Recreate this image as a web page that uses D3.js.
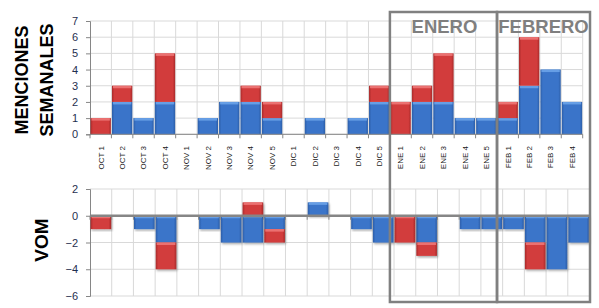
<!DOCTYPE html>
<html>
<head>
<meta charset="utf-8">
<script src="https://cdnjs.cloudflare.com/ajax/libs/d3/7.8.5/d3.min.js"></script>
<style>
  body { margin: 0; background: #fff; }
  svg { display: block; font-family: "Liberation Sans", Arial, sans-serif; }
</style>
</head>
<body>
<div id="chart"></div>
<script>
// semanas
var categories = ["OCT 1","OCT 2","OCT 3","OCT 4",
                  "NOV 1","NOV 2","NOV 3","NOV 4","NOV 5",
                  "DIC 1","DIC 2","DIC 3","DIC 4","DIC 5",
                  "ENE 1","ENE 2","ENE 3","ENE 4","ENE 5",
                  "FEB 1","FEB 2","FEB 3","FEB 4"];

// menciones semanales (azul abajo, rojo encima)
var menBlue = [0,2,1,2, 0,1,2,2,1, 0,1,0,1,2, 0,2,2,1,1, 1,3,4,2];
var menRed  = [1,1,0,3, 0,0,0,1,1, 0,0,0,0,1, 2,1,3,0,0, 1,3,0,0];

// VOM
var vomBlue = [0,0,-1,-2, 0,-1,-2,-2,-1, 0,1,0,-1,-2, 0,-2,0,-1,-1, -1,-2,-4,-2];
var vomRed  = [-1,0,0,-2, 0,0,0,1,-1, 0,0,0,0,0, -2,-1,0,0,0, 0,-2,0,0];

var menTicks = [0,1,2,3,4,5,6,7];
var vomTicks = [2,0,-2,-4,-6];

var months = [
  {name: "ENERO",   from: "ENE 1", to: "FEB 1"},
  {name: "FEBRERO", from: "FEB 1", to: null}
];

var W = 599, H = 308;
var left = 90;

var svg = d3.select("#chart").append("svg")
    .attr("width", W)
    .attr("height", H);

var defs = svg.append("defs");

function grad(id, dark, mid) {
    var g = defs.append("linearGradient").attr("id", id)
        .attr("x1", "0").attr("x2", "1").attr("y1", "0").attr("y2", "0");
    g.append("stop").attr("offset", "0").attr("stop-color", dark);
    g.append("stop").attr("offset", "0.12").attr("stop-color", mid);
    g.append("stop").attr("offset", "0.88").attr("stop-color", mid);
    g.append("stop").attr("offset", "1").attr("stop-color", dark);
}
grad("gBlue", "#2c5ea8", "#3a74c9");
grad("gRed", "#a82a2a", "#d23c3c");

var sh = defs.append("filter").attr("id", "shadow")
    .attr("x", "-20%").attr("y", "-20%").attr("width", "140%").attr("height", "140%");
sh.append("feDropShadow").attr("dx", 1).attr("dy", 1.5)
    .attr("stdDeviation", 1).attr("flood-color", "#000").attr("flood-opacity", 0.35);

var colors = {blue: {fill: "url(#gBlue)", hi: "#6ea6ea"},
              red:  {fill: "url(#gRed)",  hi: "#f07a7a"}};

function buildRows(blue, red) {
    return categories.map(function(c, i) { return {cat: c, blue: blue[i], red: red[i]}; });
}

function drawPanel(opt) {
    var x = d3.scaleBand().domain(categories)
        .range([left, opt.right])
        .paddingInner(0.05).paddingOuter(0.025);
    var step = x.step();
    var x0 = x.range()[0];
    var y = d3.scaleLinear().domain(opt.domain).range(opt.range);
    var g = svg.append("g");

    // horizontal grid
    g.selectAll(".hg").data(opt.ticks).enter().append("line")
        .attr("x1", left).attr("x2", opt.right)
        .attr("y1", function(d) { return y(d); }).attr("y2", function(d) { return y(d); })
        .attr("stroke", "#d9d9d9").attr("stroke-width", 1);

    // vertical grid at category boundaries
    var bounds = d3.range(1, categories.length + 1).map(function(i) { return x0 + i * step; });
    g.selectAll(".vg").data(bounds).enter().append("line")
        .attr("x1", function(d) { return d; }).attr("x2", function(d) { return d; })
        .attr("y1", y(opt.domain[1])).attr("y2", y(opt.domain[0]))
        .attr("stroke", "#d9d9d9").attr("stroke-width", 1);

    // y axis
    var ya = g.append("g").attr("transform", "translate(" + left + ",0)")
        .call(d3.axisLeft(y).tickValues(opt.ticks).tickSize(4).tickPadding(8)
              .tickFormat(d3.format("d")));
    ya.select(".domain").attr("stroke", "#868686");
    ya.selectAll(".tick line").attr("stroke", "#868686");
    ya.selectAll("text").attr("fill", "#1f2f4f")
        .style("font-size", "11px").style("font-family", "'Liberation Sans', Arial, sans-serif");

    // bars
    var rows = buildRows(opt.blue, opt.red);
    var stack = d3.stack().keys(["blue", "red"]).offset(d3.stackOffsetDiverging);
    var series = stack(rows);
    var bars = g.append("g");
    series.forEach(function(s) {
        var c = colors[s.key];
        var seg = bars.selectAll(".b-" + s.key)
            .data(s.filter(function(d) { return d[1] - d[0] !== 0; }))
            .enter().append("g")
            .attr("filter", opt.shadow ? "url(#shadow)" : null);
        seg.append("rect")
            .attr("x", function(d) { return x(d.data.cat); })
            .attr("width", x.bandwidth())
            .attr("y", function(d) { return Math.min(y(d[0]), y(d[1])); })
            .attr("height", function(d) { return Math.abs(y(d[0]) - y(d[1])); })
            .attr("fill", c.fill);
        seg.append("rect")
            .attr("x", function(d) { return x(d.data.cat) + 1; })
            .attr("width", x.bandwidth() - 2)
            .attr("y", function(d) { return Math.min(y(d[0]), y(d[1])); })
            .attr("height", 2.5)
            .attr("fill", c.hi).attr("opacity", 0.85);
    });

    // x axis line + boundary ticks
    var yAxis = y(opt.axisAt);
    g.append("line")
        .attr("x1", left).attr("x2", opt.right)
        .attr("y1", yAxis).attr("y2", yAxis)
        .attr("stroke", "#868686").attr("stroke-width", opt.axisWidth);
    g.selectAll(".xt").data([x0].concat(bounds)).enter().append("line")
        .attr("x1", function(d) { return d; }).attr("x2", function(d) { return d; })
        .attr("y1", yAxis).attr("y2", yAxis + 4)
        .attr("stroke", "#868686");

    return x;
}

var xTop = drawPanel({
    right: 582.7, domain: [0, 7], range: [134.3, 21], ticks: menTicks,
    blue: menBlue, red: menRed, axisAt: 0, axisWidth: 1, shadow: false
});

var xBot = drawPanel({
    right: 589.5, domain: [-6, 2], range: [296, 189], ticks: vomTicks,
    blue: vomBlue, red: vomRed, axisAt: 0, axisWidth: 2.5, shadow: true
});

// category labels
svg.append("g").selectAll("text").data(categories).enter().append("text")
    .attr("transform", function(d) {
        return "translate(" + (xTop(d) + xTop.bandwidth() / 2) + ",146) rotate(-90)";
    })
    .attr("dy", "0.35em")
    .attr("text-anchor", "end")
    .attr("fill", "#1a1a1a")
    .style("font-size", "8px")
    .text(function(d) { return d; });

// axis titles
function vtitle(txt, cx, cy, size) {
    svg.append("text")
        .attr("transform", "translate(" + cx + "," + cy + ") rotate(-90)")
        .attr("text-anchor", "middle").attr("dy", "0.35em")
        .style("font-size", size + "px").style("font-weight", "bold")
        .attr("fill", "#000")
        .text(txt);
}
vtitle("MENCIONES", 21.5, 80, 18);
vtitle("SEMANALES", 47, 80, 18);
vtitle("VOM", 41.5, 240, 19);

// month boxes
var boxTop = 12, boxBottom = 302, boxRight = 590;
months.forEach(function(m) {
    var x1 = xTop(m.from) - xTop.step() * xTop.paddingInner() / 2;
    var x2 = m.to ? xTop(m.to) - xTop.step() * xTop.paddingInner() / 2 : boxRight;
    svg.append("rect")
        .attr("x", x1).attr("y", boxTop)
        .attr("width", x2 - x1).attr("height", boxBottom - boxTop)
        .attr("fill", "none").attr("stroke", "#808080").attr("stroke-width", 2.5);
    svg.append("text")
        .attr("x", (x1 + x2) / 2 + (m.to ? 1 : 0)).attr("y", 32.5)
        .attr("text-anchor", "middle")
        .style("font-size", "18.5px").style("font-weight", "bold")
        .attr("fill", "#7f7f7f")
        .text(m.name);
});
</script>
</body>
</html>
